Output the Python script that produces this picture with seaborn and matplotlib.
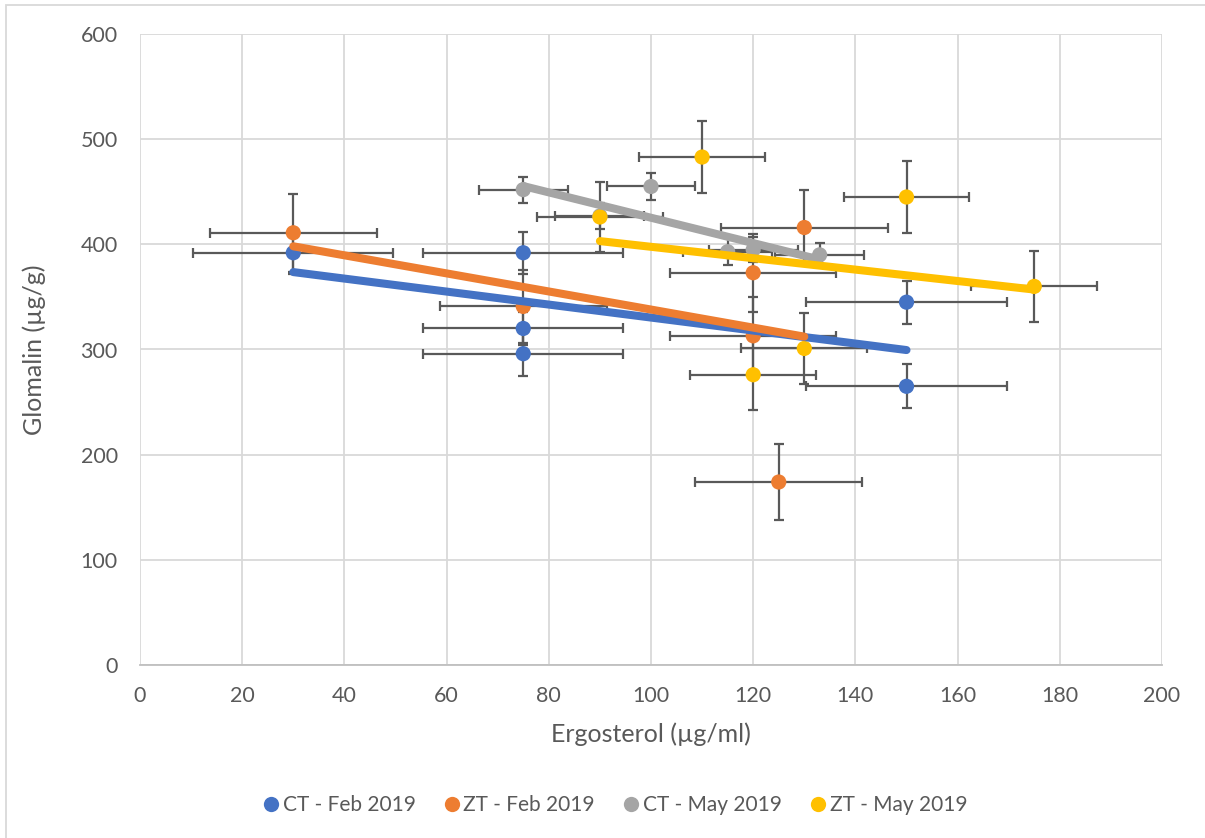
import numpy as np
import pandas as pd
import matplotlib
matplotlib.use("Agg")
import matplotlib.pyplot as plt
from matplotlib.lines import Line2D
from matplotlib.patches import Rectangle
import seaborn as sns

# Series: ergosterol (x) vs glomalin (y) with x/y standard errors
ct_feb_x = [30, 75, 75, 75, 150, 150]
ct_feb_y = [392, 392, 320, 296, 345, 265]
ct_feb_xerr = [19.6, 19.6, 19.6, 19.6, 19.6, 19.6]
ct_feb_yerr = [20, 20, 16, 21, 20.5, 21]

zt_feb_x = [30, 75, 120, 120, 130, 125]
zt_feb_y = [411, 341, 373, 313, 416, 174]
zt_feb_xerr = [16.3, 16.3, 16.3, 16.3, 16.3, 16.3]
zt_feb_yerr = [37, 35, 37, 37, 36, 36.5]

ct_may_x = [75, 90, 100, 115, 120, 133]
ct_may_y = [452, 427, 455, 393, 395, 390]
ct_may_xerr = [8.7, 8.7, 8.7, 8.7, 8.7, 8.7]
ct_may_yerr = [12.3, 12, 12.4, 13, 12, 11.5]

zt_may_x = [90, 110, 150, 175, 130, 120]
zt_may_y = [426, 483, 445, 360, 301, 276]
zt_may_xerr = [12.3, 12.3, 12.3, 12.3, 12.3, 12.3]
zt_may_yerr = [33.7, 33.8, 34, 33.6, 33.7, 33.5]

series_names = ["CT - Feb 2019", "ZT - Feb 2019", "CT - May 2019", "ZT - May 2019"]
series_colors = ["#4472C4", "#ED7D31", "#A5A5A5", "#FFC000"]

series = [
    (ct_feb_x, ct_feb_y, ct_feb_xerr, ct_feb_yerr),
    (zt_feb_x, zt_feb_y, zt_feb_xerr, zt_feb_yerr),
    (ct_may_x, ct_may_y, ct_may_xerr, ct_may_yerr),
    (zt_may_x, zt_may_y, zt_may_xerr, zt_may_yerr),
]

frames = []
for name, (xs, ys, xe, ye) in zip(series_names, series):
    frames.append(pd.DataFrame({"x": xs, "y": ys, "xerr": xe, "yerr": ye, "series": name}))
df = pd.concat(frames, ignore_index=True)

sns.set_theme(style="white")
plt.rcParams["font.family"] = ["Lato", "DejaVu Sans"]

W, H = 1205, 838
fig = plt.figure(figsize=(W / 100, H / 100), dpi=100)
ax = fig.add_axes([140 / W, 1 - 665 / H, (1162 - 140) / W, (665 - 34) / H])

text_color = "#595959"
grid_color = "#D9D9D9"

# error bars
for name, color in zip(series_names, series_colors):
    sub = df[df["series"] == name]
    ax.errorbar(sub["x"], sub["y"], xerr=sub["xerr"], yerr=sub["yerr"],
                fmt="none", ecolor="#595959", elinewidth=1.6, capsize=3.8,
                capthick=1.6, zorder=2)

# markers
sns.scatterplot(data=df, x="x", y="y", hue="series", hue_order=series_names,
                palette=series_colors, s=120, edgecolor="none", linewidth=0,
                legend=False, ax=ax, zorder=3)

# linear trend lines
for name, color in zip(series_names, series_colors):
    sub = df[df["series"] == name]
    sns.regplot(data=sub, x="x", y="y", scatter=False, ci=None, truncate=True,
                color=color, ax=ax,
                line_kws={"lw": 5.8, "solid_capstyle": "round", "zorder": 4})

ax.set_xlim(0, 200)
ax.set_ylim(0, 600)
ax.set_xticks(np.arange(0, 201, 20))
ax.set_yticks(np.arange(0, 601, 100))
ax.grid(True, color=grid_color, linewidth=1.3)
ax.set_axisbelow(True)
for side in ["top", "right", "left"]:
    ax.spines[side].set_visible(False)
ax.spines["bottom"].set_color("#BFBFBF")
ax.spines["bottom"].set_linewidth(1.3)
ax.tick_params(axis="both", length=0, labelsize=15.5, labelcolor=text_color)
ax.tick_params(axis="y", pad=16)
ax.tick_params(axis="x", pad=15)

ax.set_xlabel("Ergosterol (µg/ml)", fontsize=18, color=text_color, labelpad=12)
ax.set_ylabel("Glomalin (µg/g)", fontsize=18, color=text_color, labelpad=25)

handles = [Line2D([0], [0], marker="o", linestyle="none", markersize=11,
                  markerfacecolor=c, markeredgecolor="none") for c in series_colors]
fig.legend(handles, series_names, loc="center", bbox_to_anchor=(614 / W, 1 - 805 / H),
           ncol=4, frameon=False, fontsize=15, labelcolor=text_color,
           handletextpad=0.05, columnspacing=1.25, handlelength=1.0)

# chart area border (top and left edges)
fig.patches.append(Rectangle((6 / W, -0.1), 1.2, 1.1 - 5 / H, transform=fig.transFigure,
                             fill=False, edgecolor="#D9D9D9", linewidth=1.3))

fig.savefig("out.png", dpi=100)
